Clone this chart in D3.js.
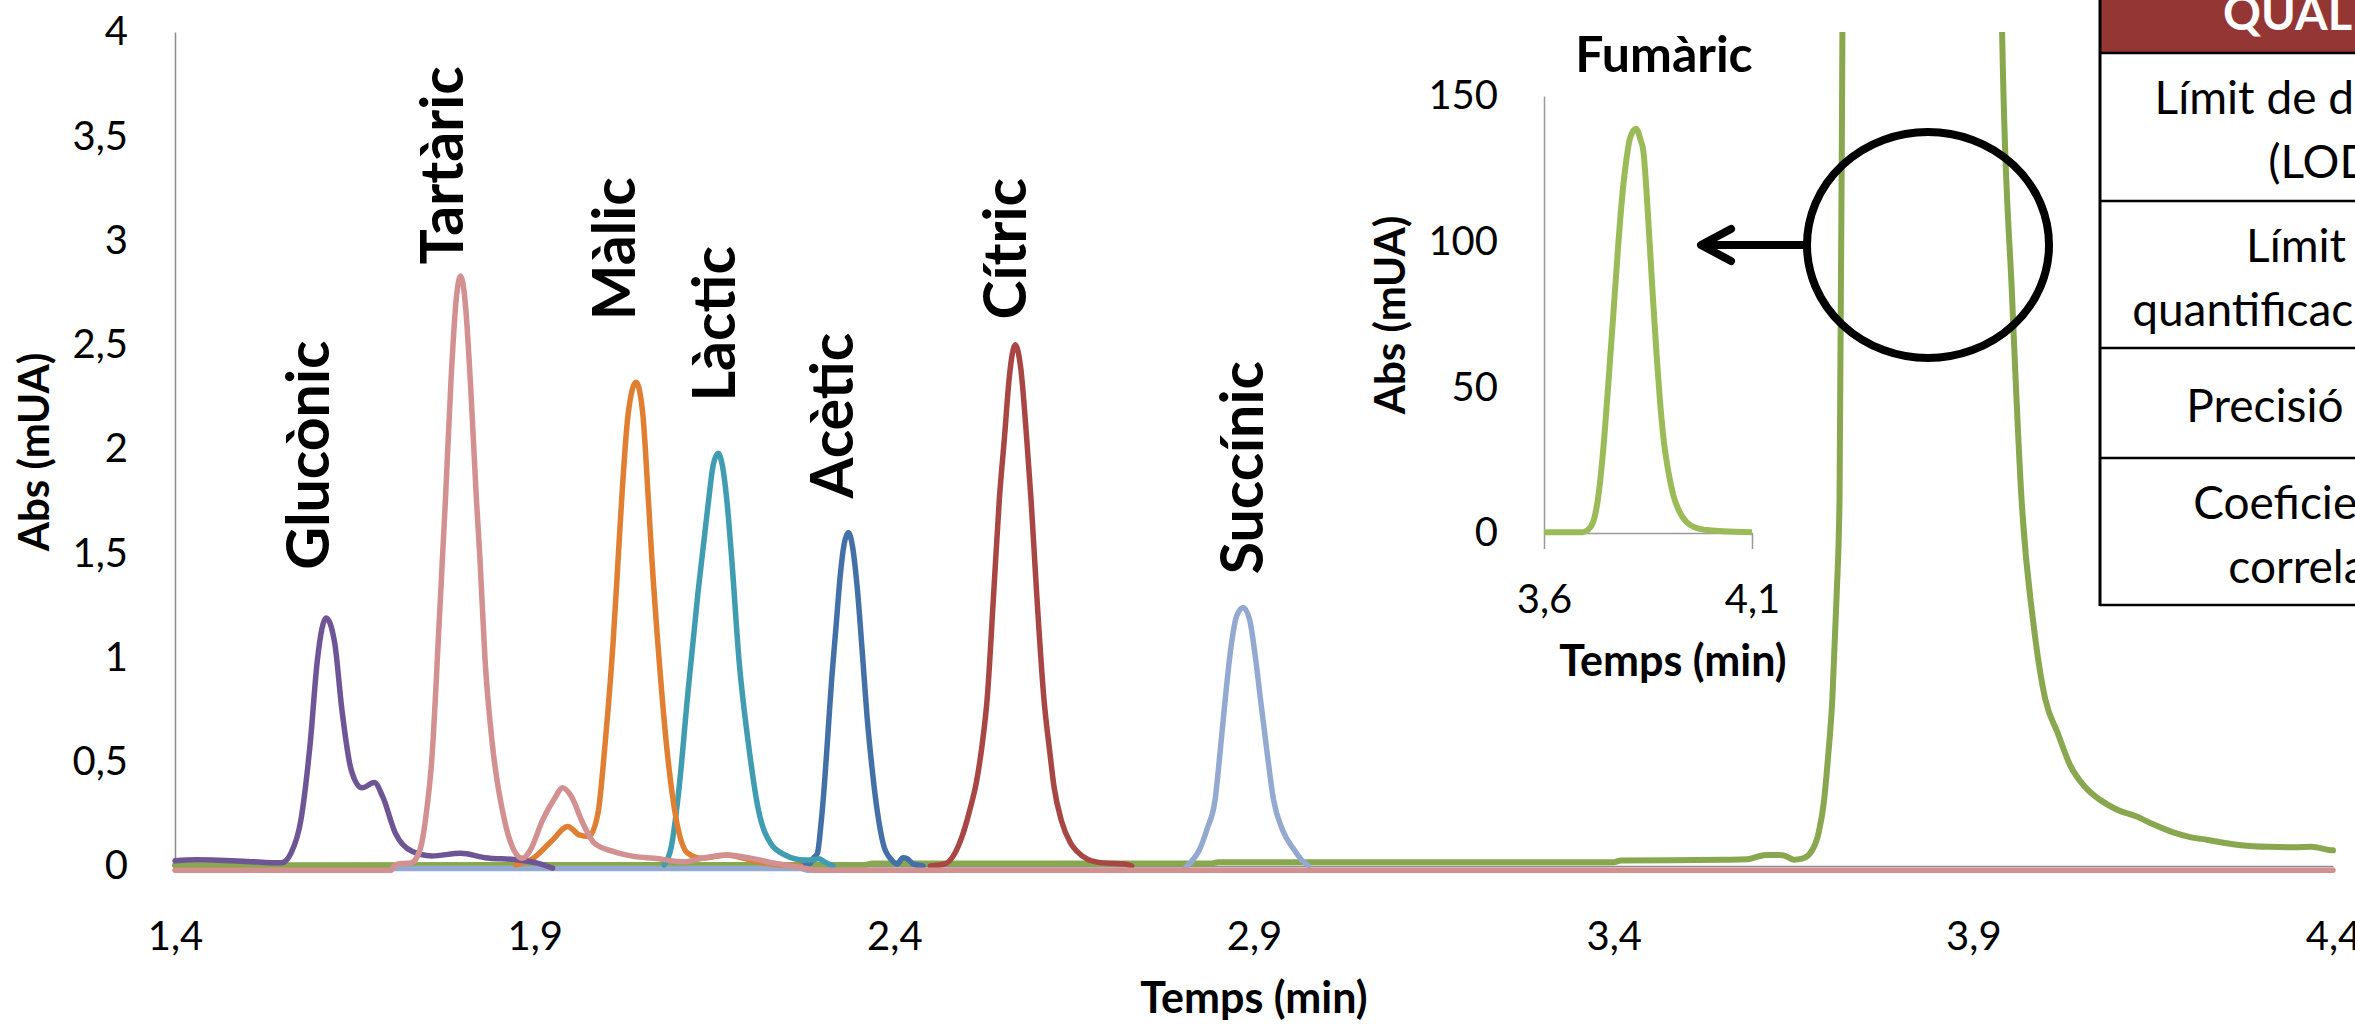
<!DOCTYPE html>
<html><head><meta charset="utf-8">
<script src="https://cdn.jsdelivr.net/npm/d3@7"></script>
<style>
html,body{margin:0;padding:0;background:#fff;overflow:hidden}
svg{display:block}
</style></head><body>
<svg id="chart" width="2355" height="1033"></svg>
<script>
// ---------------- DATA ----------------
const xTicks = [1.4, 1.9, 2.4, 2.9, 3.4, 3.9, 4.4];
const yTicks = [0, 0.5, 1, 1.5, 2, 2.5, 3, 3.5, 4];
const insetXTicks = [3.6, 4.1];
const insetYTicks = [0, 50, 100, 150];

// [time (min), absorbance (mUA)]
const glucònic = [[1.40,0.025],[1.43,0.03],[1.46,0.028],[1.50,0.022],[1.548,0.015],[1.561,0.06],[1.575,0.22],[1.588,0.59],[1.598,0.99],[1.610,1.19],[1.622,1.07],[1.632,0.75],[1.645,0.46],[1.660,0.375],[1.677,0.40],[1.689,0.33],[1.706,0.16],[1.730,0.069],[1.757,0.048],[1.797,0.061],[1.831,0.04],[1.878,0.029],[1.905,0.013],[1.925,-0.01]];
const tartàric = [[1.40,-0.02],[1.70,-0.02],[1.706,0.005],[1.715,0.012],[1.728,0.015],[1.736,0.04],[1.743,0.11],[1.750,0.27],[1.757,0.51],[1.767,1.15],[1.776,1.76],[1.784,2.35],[1.791,2.72],[1.797,2.83],[1.803,2.72],[1.811,2.3],[1.819,1.76],[1.824,1.47],[1.831,0.99],[1.841,0.59],[1.858,0.22],[1.871,0.077],[1.883,0.037],[1.894,0.077],[1.911,0.22],[1.927,0.32],[1.939,0.375],[1.951,0.333],[1.967,0.205],[1.983,0.109],[2.01,0.069],[2.04,0.045],[2.066,0.037],[2.107,0.02],[2.133,0.037],[2.167,0.053],[2.2,0.037],[2.234,0.013],[2.275,-0.01],[2.29,-0.02],[4.40,-0.02]];
const màlic = [[1.874,0.005],[1.898,0.037],[1.925,0.125],[1.946,0.19],[1.962,0.149],[1.975,0.141],[1.988,0.253],[1.998,0.59],[2.009,1.07],[2.016,1.47],[2.021,1.76],[2.030,2.17],[2.041,2.32],[2.050,2.18],[2.058,1.76],[2.063,1.47],[2.073,0.99],[2.083,0.59],[2.097,0.22],[2.113,0.061],[2.133,0.037],[2.167,0.053],[2.2,0.029],[2.24,0.005],[2.27,0.0]];
const làctic = [[2.08,0.005],[2.09,0.093],[2.10,0.35],[2.113,0.83],[2.127,1.31],[2.135,1.55],[2.142,1.76],[2.148,1.92],[2.155,1.98],[2.161,1.92],[2.167,1.76],[2.174,1.47],[2.184,0.99],[2.197,0.59],[2.211,0.27],[2.228,0.109],[2.248,0.053],[2.275,0.029],[2.288,0.03],[2.295,0.035],[2.303,0.02],[2.315,0.0]];
const acètic = [[2.27,0.0],[2.282,0.01],[2.288,0.04],[2.293,0.06],[2.298,0.2],[2.303,0.4],[2.308,0.65],[2.313,0.9],[2.319,1.15],[2.325,1.4],[2.330,1.54],[2.336,1.6],[2.342,1.53],[2.348,1.35],[2.356,1.0],[2.362,0.72],[2.369,0.47],[2.376,0.27],[2.385,0.1],[2.396,0.03],[2.404,0.01],[2.412,0.04],[2.418,0.035],[2.426,0.01],[2.44,0.0]];
const cítric = [[2.45,0.0],[2.47,0.01],[2.484,0.06],[2.495,0.15],[2.505,0.27],[2.514,0.4],[2.522,0.58],[2.529,0.8],[2.538,1.3],[2.546,1.76],[2.553,2.05],[2.56,2.35],[2.568,2.5],[2.576,2.38],[2.584,2.05],[2.59,1.76],[2.598,1.3],[2.608,0.8],[2.616,0.55],[2.622,0.38],[2.632,0.22],[2.645,0.11],[2.654,0.07],[2.67,0.03],[2.69,0.015],[2.72,0.01],[2.73,0.0]];
const succínic = [[1.70,-0.02],[1.705,-0.012],[2.27,-0.012],[2.28,-0.02],[2.80,-0.02],[2.807,0.0],[2.815,0.03],[2.824,0.077],[2.835,0.18],[2.846,0.32],[2.853,0.55],[2.86,0.8],[2.868,1.05],[2.876,1.2],[2.885,1.24],[2.894,1.18],[2.902,1.0],[2.909,0.8],[2.918,0.55],[2.927,0.32],[2.94,0.17],[2.956,0.077],[2.966,0.03],[2.976,0.0]];
const fumàric = [[1.40,0.004],[2.36,0.005],[2.37,0.012],[2.84,0.012],[2.85,0.018],[3.40,0.018],[3.41,0.026],[3.55,0.03],[3.585,0.032],[3.60,0.045],[3.612,0.053],[3.635,0.052],[3.651,0.03],[3.662,0.035],[3.675,0.07],[3.685,0.16],[3.692,0.3],[3.698,0.52],[3.704,0.8],[3.71,1.3],[3.714,1.76],[3.718,4.0],[3.722,7],[3.74,25],[3.78,100],[3.82,139],[3.86,100],[3.90,30],[3.925,10],[3.94,4.0],[3.954,2.72],[3.967,1.76],[3.984,1.15],[4.0,0.8],[4.017,0.64],[4.035,0.48],[4.055,0.38],[4.075,0.32],[4.10,0.27],[4.128,0.236],[4.15,0.2],[4.179,0.16],[4.20,0.14],[4.226,0.125],[4.25,0.11],[4.272,0.10],[4.31,0.092],[4.347,0.09],[4.37,0.092],[4.394,0.077],[4.40,0.075]];
const fumàricInset = [[3.60,0.3],[3.694,0.3],[3.705,1.0],[3.718,3.7],[3.73,12],[3.743,29.6],[3.755,52],[3.767,75.7],[3.777,96],[3.787,114],[3.797,127],[3.807,135.6],[3.821,138.8],[3.832,135],[3.839,130.9],[3.847,116],[3.855,97],[3.863,78],[3.871,60.4],[3.879,45],[3.887,32.8],[3.899,21],[3.911,12.9],[3.925,7.5],[3.943,3.7],[3.965,1.8],[3.991,1.0],[4.03,0.6],[4.10,0.3]];

// peak labels: [name, time, abs] (anchor in data units)
const peakLabels = [["Glucònic",1.614,1.97],["Tartàric",1.800,3.36],["Màlic",2.039,2.96],["Làctic",2.178,2.60],["Acètic",2.343,2.16],["Cítric",2.583,2.96],["Succínic",2.913,1.91]];

const tableHeader = "QUALITAT";
const tableRows = [["Límit de detecció","(LOD)"],["Límit de","quantificació (LOQ)"],["Precisió (RSD)"],["Coeficient de","correlació"]];

// ---------------- STYLE / LAYOUT ----------------
const FONT = "Lato, 'Open Sans', sans-serif";
const series = [
  {data: fumàric,  color: "#88A74E", w: 6},
  {data: succínic, color: "#93A9D0", w: 5.5},
  {data: cítric,   color: "#A84644", w: 5.5},
  {data: acètic,   color: "#4470A8", w: 5.5},
  {data: làctic,   color: "#409CB1", w: 5.5},
  {data: màlic,    color: "#E07E31", w: 5.5},
  {data: glucònic, color: "#6E5596", w: 5.5},
  {data: tartàric, color: "#D39090", w: 5.5}
];

const svg = d3.select("#chart");
const loc = d3.formatLocale({decimal: ",", thousands: ".", grouping: [3], currency: ["", ""]});
const fmtY = loc.format("~g");
const fmtX = loc.format(".1f");

const x = d3.scaleLinear().domain([1.4, 4.4]).range([175, 2333]);
const y = d3.scaleLinear().domain([0, 4]).range([866, 32]);

svg.append("defs").append("clipPath").attr("id", "plotClip")
  .append("rect").attr("x", 165).attr("y", 32).attr("width", 2333 - 165 + 8).attr("height", 866 - 32 + 20);

// axes
const gy = svg.append("g").attr("transform", "translate(175,0)")
  .call(d3.axisLeft(y).tickValues(yTicks).tickSize(0).tickPadding(47).tickFormat(fmtY));
const gx = svg.append("g").attr("transform", "translate(0,866)")
  .call(d3.axisBottom(x).tickValues(xTicks).tickSize(0).tickPadding(56).tickFormat(fmtX));
[gx, gy].forEach(g => {
  g.select(".domain").attr("stroke", "#8c8c8c").attr("stroke-width", 1.5);
  g.selectAll("text").attr("font-family", FONT).attr("font-size", 40).attr("fill", "#000");
});

// lines
const line = d3.line().x(d => x(d[0])).y(d => y(d[1])).curve(d3.curveMonotoneX);
const plot = svg.append("g").attr("clip-path", "url(#plotClip)");
series.forEach(s => {
  plot.append("path").datum(s.data).attr("d", line)
    .attr("fill", "none").attr("stroke", s.color).attr("stroke-width", s.w)
    .attr("stroke-linejoin", "round").attr("stroke-linecap", "round");
});

// axis titles
svg.append("text").attr("x", 1254).attr("y", 1013).attr("text-anchor", "middle")
  .attr("font-family", FONT).attr("font-weight", 700).attr("font-size", 43).text("Temps (min)");
svg.append("text").attr("transform", "translate(49,452) rotate(-90)").attr("text-anchor", "middle")
  .attr("font-family", FONT).attr("font-weight", 700).attr("font-size", 42).text("Abs (mUA)");

// peak labels
svg.append("g").selectAll("text").data(peakLabels).join("text")
  .attr("transform", d => `translate(${x(d[1])},${y(d[2])}) rotate(-90)`)
  .attr("text-anchor", "middle").attr("font-family", FONT).attr("font-weight", 700)
  .attr("font-size", 59).text(d => d[0]);

// ---------------- INSET ----------------
const ix = d3.scaleLinear().domain([3.6, 4.1]).range([1544, 1752]);
const iy = d3.scaleLinear().domain([0, 150]).range([533, 96]);
const igy = svg.append("g").attr("transform", "translate(1544,0)")
  .call(d3.axisLeft(iy).tickValues(insetYTicks).tickSize(0).tickPadding(46).tickFormat(d3.format("d")));
const igx = svg.append("g").attr("transform", "translate(0,533)")
  .call(d3.axisBottom(ix).tickValues(insetXTicks).tickSizeInner(16).tickSizeOuter(0).tickPadding(36).tickFormat(fmtX));
[igx, igy].forEach(g => {
  g.select(".domain").attr("stroke", "#9a9a9a").attr("stroke-width", 1.5);
  g.selectAll(".tick line").attr("stroke", "#9a9a9a").attr("stroke-width", 1.5);
  g.selectAll("text").attr("font-family", FONT).attr("font-size", 40).attr("fill", "#000");
});
const iline = d3.line().x(d => ix(d[0])).y(d => iy(d[1])).curve(d3.curveMonotoneX);
svg.append("path").datum(fumàricInset).attr("d", iline).attr("fill", "none")
  .attr("stroke", "#9BBB59").attr("stroke-width", 6).attr("stroke-linejoin", "round");
svg.append("text").attr("x", 1664).attr("y", 72).attr("text-anchor", "middle")
  .attr("font-family", FONT).attr("font-weight", 700).attr("font-size", 50).text("Fumàric");
svg.append("text").attr("x", 1673).attr("y", 676).attr("text-anchor", "middle")
  .attr("font-family", FONT).attr("font-weight", 700).attr("font-size", 43).text("Temps (min)");
svg.append("text").attr("transform", "translate(1405,315) rotate(-90)").attr("text-anchor", "middle")
  .attr("font-family", FONT).attr("font-weight", 700).attr("font-size", 42).text("Abs (mUA)");

// circle + arrow
svg.append("ellipse").attr("cx", 1928).attr("cy", 245).attr("rx", 121).attr("ry", 113)
  .attr("fill", "none").attr("stroke", "#000").attr("stroke-width", 8);
svg.append("path").attr("d", "M1807,245 H1702 M1731,229 L1701,245 L1731,261")
  .attr("fill", "none").attr("stroke", "#000").attr("stroke-width", 8)
  .attr("stroke-linecap", "round").attr("stroke-linejoin", "round");

// ---------------- TABLE ----------------
const tLeft = 2100, tRight = 2360, tCx = 2327;
const rowEdges = [53, 201, 348, 458, 605];
const tg = svg.append("g");
tg.append("rect").attr("x", tLeft).attr("y", -2).attr("width", tRight - tLeft).attr("height", 55).attr("fill", "#943634");
tg.append("text").attr("x", 2223).attr("y", 30).attr("font-family", FONT).attr("font-weight", 700)
  .attr("font-size", 47).attr("fill", "#fff").text(tableHeader);
tg.selectAll("line.h").data(rowEdges).join("line").attr("class", "h")
  .attr("x1", tLeft).attr("x2", tRight).attr("y1", d => d).attr("y2", d => d)
  .attr("stroke", "#000").attr("stroke-width", 2.5);
tg.append("line").attr("x1", tLeft).attr("x2", tLeft).attr("y1", 0).attr("y2", 606)
  .attr("stroke", "#000").attr("stroke-width", 3);
tableRows.forEach((lines, i) => {
  const c = (rowEdges[i] + rowEdges[i + 1]) / 2;
  lines.forEach((t, j) => {
    tg.append("text").attr("x", tCx).attr("y", c + 19 + (j - (lines.length - 1) / 2) * 64)
      .attr("text-anchor", "middle").attr("font-family", FONT).attr("font-size", 46).text(t);
  });
});
</script>
</body></html>
